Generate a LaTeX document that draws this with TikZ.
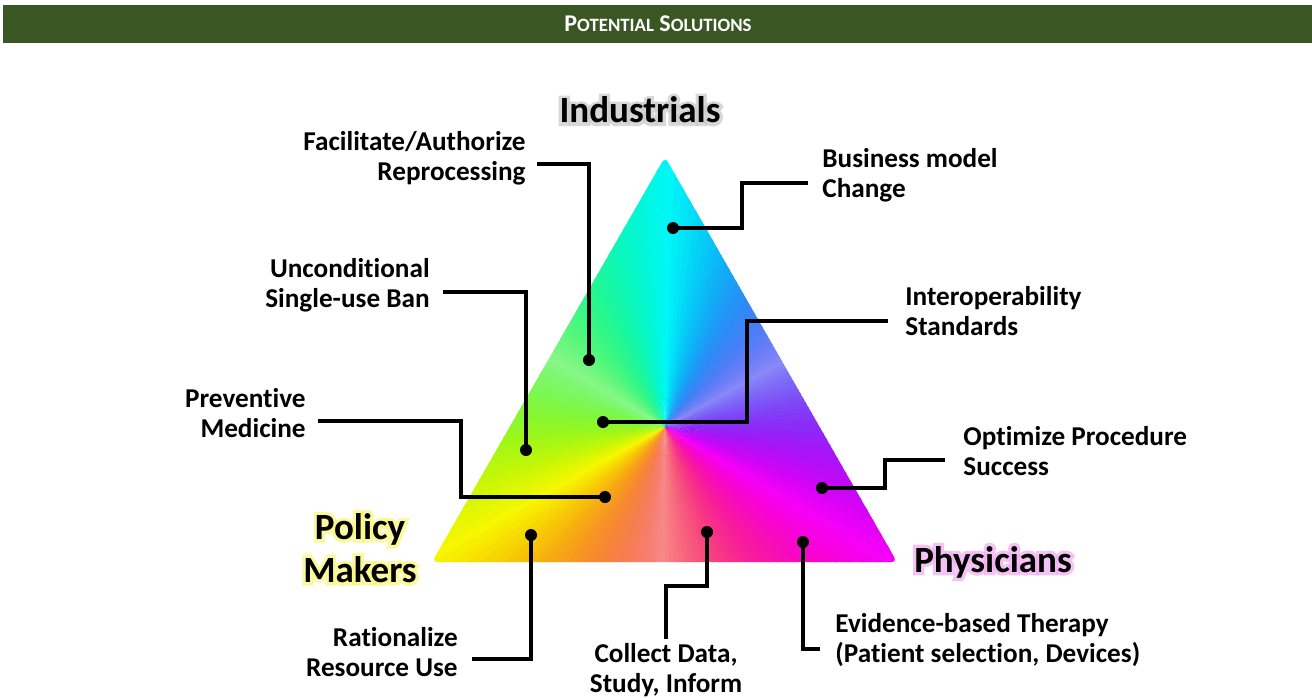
\documentclass[tikz,border=0pt]{standalone}
\usepackage{fontspec}
\setmainfont{Carlito}[Ligatures=NoCommon]
\newfontfamily\glowfont{Carlito}[UprightFont={* Bold}, FakeBold=18, Ligatures=NoCommon]
\usepackage{xcolor}
\usetikzlibrary{positioning}

\definecolor{barGreen}{RGB}{58,86,35}
\definecolor{glowGrey}{RGB}{200,200,200}
\definecolor{glowYellow}{RGB}{250,245,120}
\definecolor{glowPink}{RGB}{240,170,240}
\newcommand{\sck}[1]{{\fontsize{9.4}{11}\selectfont #1}}

\tikzset{
  lab/.style={font=\fontsize{13.6}{14.8}\selectfont\bfseries, inner sep=0pt},
  big/.style={font=\fontsize{18.5}{21.5}\selectfont\bfseries, align=center, inner sep=0pt},
  glow/.style={font=\fontsize{18.5}{21.5}\selectfont\glowfont, align=center, inner sep=0pt, text opacity=.7},
  wire/.style={line width=2pt, black},
  pin/.style={circle, fill=black, inner sep=0pt, minimum size=6pt},
}

\begin{document}
\begin{tikzpicture}
			[x=0.5pt, y=-0.5pt]
			\useasboundingbox (0,0) rectangle (1312,697);
			% header bar
			\fill[barGreen] (3,5) rectangle (1312,43);
			\node[text=white, font=\fontsize{12}{14}\selectfont\bfseries] (title) at (658,24)
				{P\sck{OTENTIAL} S\sck{OLUTIONS}};
			% the triangle, shaded by hue
			\coordinate (top) at (665,157);
			\coordinate (lft) at (432,562);
			\coordinate (rgt) at (897,562);
			\coordinate (ctr) at (665,427);
			\begin{scope}
				\clip[rounded corners=3pt] (top) -- (lft) -- (rgt) -- cycle;
				\foreach \a in {0,2,...,358}{
					\pgfmathsetmacro\hu{mod(270+\a,360)/360}
					\pgfmathsetmacro\sa{0.45+0.55*abs(cos(1.5*(\a+90)))}
					\definecolor{wedge}{hsb}{\hu,\sa,0.97}
					\fill[wedge] (ctr) -- ([shift={(\a:300)}]ctr) -- ([shift={(\a+2.6:300)}]ctr) -- cycle;
				}
			\end{scope}
			% corner names with glow
			\node[glow, text=glowGrey] (indglow) at (640,110) {Industrials};
			\node[glow, text=glowYellow] (polglow) at (360,548) {Policy\\Makers};
			\node[glow, text=glowPink] (phyglow) at (993,562) {Physicians};
			\node[big] (ind) at (indglow) {Industrials};
			\node[big] (pol) at (polglow) {Policy\\Makers};
			\node[big] (phy) at (phyglow) {Physicians};
			% labels
			\node[lab, align=right, anchor=east] (lReproc) at (526,158) {Facilitate/Authorize\\Reprocessing};
			\node[lab, align=left, anchor=west] (lBiz) at (822,175) {Business model\\Change};
			\node[lab, align=right, anchor=east] (lBan) at (430,285) {Unconditional\\Single-use Ban};
			\node[lab, align=left, anchor=west] (lInter) at (905,311) {Interoperability\\Standards};
			\node[lab, align=right, anchor=east] (lPrev) at (306,413) {Preventive\\Medicine};
			\node[lab, align=left, anchor=west] (lOpt) at (963,451) {Optimize Procedure\\Success};
			\node[lab, align=right, anchor=east] (lRes) at (458,652) {Rationalize\\Resource Use};
			\node[lab, align=center, anchor=north] (lData) at (666,643) {Collect Data,\\Study, Inform};
			\node[lab, align=left, anchor=west] (lEvid) at (835,640) {Evidence-based Therapy\\(Patient selection, Devices)};
			% dots
			\node[pin] (dReproc) at (589,360) {};
			\node[pin] (dBiz) at (673,228) {};
			\node[pin] (dBan) at (526,450) {};
			\node[pin] (dInter) at (603,422) {};
			\node[pin] (dPrev) at (605,497) {};
			\node[pin] (dOpt) at (822,488) {};
			\node[pin] (dRes) at (531,535) {};
			\node[pin] (dData) at (707,532) {};
			\node[pin] (dEvid) at (803,542) {};
			% connectors
			\draw[wire] (dReproc.center) |- ([xshift=5.5pt,yshift=-3pt]lReproc.east);
			\draw[wire] (dBiz.center) -- ++(69,0) |- ([xshift=-7pt,yshift=-4pt]lBiz.west);
			\draw[wire] (dBan.center) |- ([xshift=6.5pt,yshift=-3.5pt]lBan.east);
			\draw[wire] (dInter.center) -- ++(144,0) |- ([xshift=-8.5pt,yshift=-5pt]lInter.west);
			\draw[wire] (dPrev.center) -- ++(-144,0) |- ([xshift=6pt,yshift=-4pt]lPrev.east);
			\draw[wire] (dOpt.center) -- ++(63,0) |- ([xshift=-9pt,yshift=-4.5pt]lOpt.west);
			\draw[wire] (dRes.center) |- ([xshift=7pt,yshift=-3.5pt]lRes.east);
			\draw[wire] (dData.center) -- ++(0,54) -| ([yshift=2pt]lData.north);
			\draw[wire] (dEvid.center) |- ([xshift=-7.5pt,yshift=-4.5pt]lEvid.west);
		\end{tikzpicture}
\end{document}
